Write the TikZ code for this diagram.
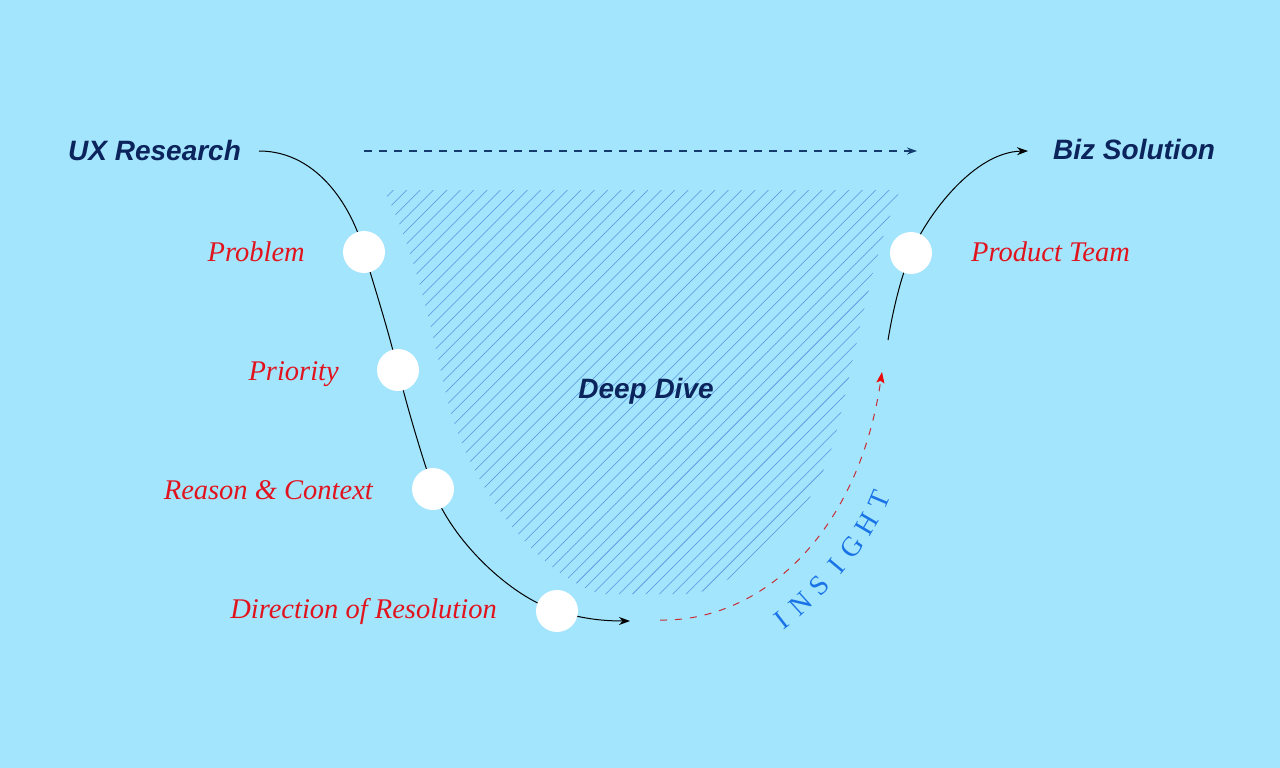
\documentclass[tikz,border=0pt]{standalone}
\usepackage{fontspec}
\setmainfont{Liberation Serif}
\newfontfamily\headfont{Liberation Sans}
\usetikzlibrary{arrows.meta}
\definecolor{bg}{RGB}{163,229,253}
\definecolor{navy}{RGB}{12,36,92}
\definecolor{dashnavy}{RGB}{20,60,110}
\definecolor{lblred}{RGB}{225,20,30}
\definecolor{hatchc}{RGB}{85,145,222}
\definecolor{insight}{RGB}{25,115,230}
\definecolor{dashred}{RGB}{200,45,55}
\definecolor{tipred}{RGB}{235,10,10}
\begin{document}
\begin{tikzpicture}[x=1pt,y=-1pt,
  head/.style={font=\headfont\bfseries\itshape\fontsize{28}{30}\selectfont, text=navy, inner sep=0},
  lbl/.style={font=\itshape\fontsize{28.5}{30}\selectfont, text=lblred, inner sep=0},
  dot/.style={circle, fill=white, minimum size=42pt, inner sep=0},
  flow/.style={line width=1pt, black},
  hatchline/.style={hatchc, line width=0.55pt},
  ins/.style={font=\fontsize{28}{28}\selectfont, text=insight, inner sep=0, sloped}]

% background
\fill[bg] (0,0) rectangle (1280,768);
\useasboundingbox (0,0) rectangle (1280,768);

% hatched deep-dive region
\begin{scope}
  \clip (384,190) -- (900,190)
    .. controls (870,260) and (855,360) .. (835,437)
    .. controls (815,510) and (765,570) .. (695,594)
    -- (600,594)
    .. controls (530,570) and (470,480) .. (450,410)
    .. controls (435,350) and (420,260) .. (384,190) -- cycle;
  \foreach \i in {0,...,72}
    \draw[hatchline] (\i*13.4-40,610) -- ++(440,-440);
\end{scope}

% anchor points
\coordinate (s) at (259,151);
\coordinate (c1) at (364,252);
\coordinate (c2) at (398,370);
\coordinate (c3) at (433,489);
\coordinate (c4) at (557,611);
\coordinate (e) at (630,621);
\coordinate (r0) at (888,340);
\coordinate (c5) at (911,253);
\coordinate (r1) at (1028,151);
\coordinate (d0) at (660,620);
\coordinate (d1) at (882,372);
\coordinate (t0) at (364,151);
\coordinate (t1) at (917,151);
\coordinate (w0) at (782,620);
\coordinate (w1) at (879,500);

% main descending curve
\draw[flow, -{Stealth[length=11pt,width=8pt]}] (s)
  .. controls (320,151) and (354,212) .. (c1)
  .. controls (378,298) and (388,330) .. (c2)
  .. controls (408,410) and (420,450) .. (c3)
  .. controls (451,539) and (509,596) .. (c4)
  .. controls (580,618) and (600,621) .. (e);

% rising curve
\draw[flow, -{Stealth[length=11pt,width=8pt]}] (r0)
  .. controls (893,310) and (900.5,278) .. (c5)
  .. controls (928,213) and (975,152) .. (r1);

% insight dashed curve
\draw[dashred, line width=1pt, dash pattern=on 7pt off 8pt,
  -{Stealth[length=11pt,width=8pt,inset=2pt,color=tipred]}] (d0)
  .. controls (760,622) and (858,535) .. (d1);

% top dashed arrow
\draw[dashnavy, line width=1.1pt, dash pattern=on 8pt off 7pt,
  -{Stealth[length=10pt,width=7pt]}] (t0) -- (t1);

% dots
\node[dot] (n1) at (c1) {};
\node[dot] (n2) at (c2) {};
\node[dot] (n3) at (c3) {};
\node[dot] (n4) at (c4) {};
\node[dot] (n5) at (c5) {};

% headings
\node[head, anchor=base west] (ux) at (68,160) {UX Research};
\node[head, anchor=base west] (biz) at (1053,159) {Biz Solution};
\node[head, anchor=base] (deep) at (646,398) {Deep Dive};

% labels
\node[lbl, anchor=base east] (lp1) at (305,261) {Problem};
\node[lbl, anchor=base east] (lp2) at (339,380) {Priority};
\node[lbl, anchor=base east] (lp3) at (373,499) {Reason \& Context};
\node[lbl, anchor=base east] (lp4) at (497,618) {Direction of Resolution};
\node[lbl, anchor=base west] (lp5) at (971,261) {Product Team};

% INSIGHT along an arc
\path (w0) .. controls (818,592) and (860,545) .. (w1)
  node[ins, pos=0.00] (i1) {I}
  node[ins, pos=0.17] (i2) {N}
  node[ins, pos=0.34] (i3) {S}
  node[ins, pos=0.50] (i4) {I}
  node[ins, pos=0.65] (i5) {G}
  node[ins, pos=0.82] (i6) {H}
  node[ins, pos=1.00] (i7) {T};
\end{tikzpicture}
\end{document}
